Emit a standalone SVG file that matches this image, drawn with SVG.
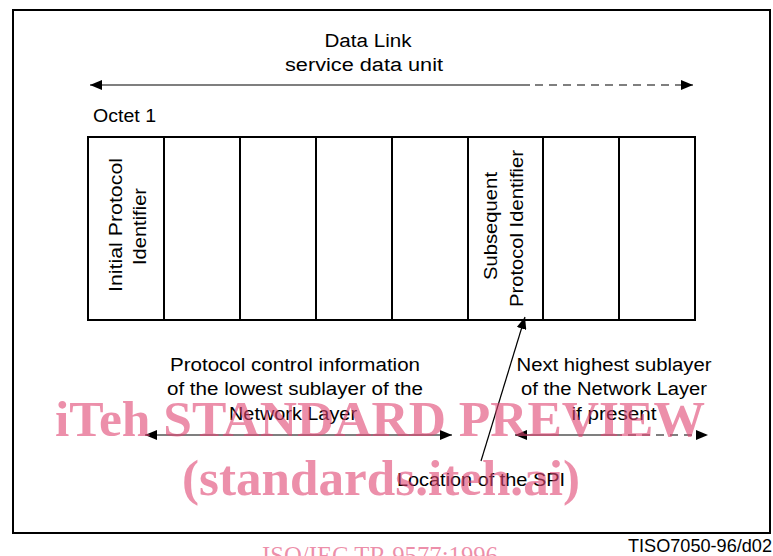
<svg xmlns="http://www.w3.org/2000/svg" width="773" height="556" viewBox="0 0 773 556">
  <defs>
    <style>
      .lbl { font-family: "Liberation Sans", Arial, sans-serif; font-size: 18px; fill: #000; }
      .vlbl { font-family: "Liberation Sans", Arial, sans-serif; font-size: 19px; fill: #000; text-anchor: middle; }
      .cell { fill: #fff; stroke: #000; stroke-width: 2; }
      .line { fill: none; stroke: #000; stroke-width: 1.2; }
      .dash { fill: none; stroke: #000; stroke-width: 1.2; stroke-dasharray: 8 6; }
      .wm { font-family: "Liberation Serif", "Times New Roman", serif; fill: #df4471; fill-opacity: 0.6; }
    </style>
    <marker id="head" viewBox="0 0 12 10" refX="12" refY="5" markerWidth="12" markerHeight="10" markerUnits="userSpaceOnUse" orient="auto-start-reverse">
      <path d="M0,0 L12,5 L0,10 Z" fill="#000"/>
    </marker>
  </defs>

  <rect width="773" height="556" fill="#fff"/>

  <!-- outer frame -->
  <rect x="13" y="10" width="757" height="523" fill="none" stroke="#000" stroke-width="2"/>

  <!-- heading over the top span -->
  <g id="title">
    <text class="lbl" x="368" y="47" text-anchor="middle" textLength="87" lengthAdjust="spacingAndGlyphs">Data Link</text>
    <text class="lbl" x="364" y="71" text-anchor="middle" textLength="158" lengthAdjust="spacingAndGlyphs">service data unit</text>
  </g>
  <g id="octet-label">
    <text class="lbl" x="93" y="122" textLength="63" lengthAdjust="spacingAndGlyphs">Octet 1</text>
  </g>

  <!-- octets -->
  <g id="octet-1">
    <rect class="cell" x="88" y="137" width="76" height="183"/>
    <text class="vlbl" transform="translate(122,225) rotate(-90)" textLength="134" lengthAdjust="spacingAndGlyphs">Initial Protocol</text>
    <text class="vlbl" transform="translate(146,226.5) rotate(-90)" textLength="77" lengthAdjust="spacingAndGlyphs">Identifier</text>
  </g>
  <g id="octet-2"><rect class="cell" x="164" y="137" width="76" height="183"/></g>
  <g id="octet-3"><rect class="cell" x="240" y="137" width="76" height="183"/></g>
  <g id="octet-4"><rect class="cell" x="316" y="137" width="76" height="183"/></g>
  <g id="octet-5"><rect class="cell" x="392" y="137" width="76" height="183"/></g>
  <g id="octet-6">
    <rect class="cell" x="468" y="137" width="75" height="183"/>
    <text class="vlbl" transform="translate(497,226) rotate(-90)" textLength="108" lengthAdjust="spacingAndGlyphs">Subsequent</text>
    <text class="vlbl" transform="translate(523,228.5) rotate(-90)" textLength="157" lengthAdjust="spacingAndGlyphs">Protocol Identifier</text>
  </g>
  <g id="octet-7"><rect class="cell" x="543" y="137" width="76" height="183"/></g>
  <g id="octet-8"><rect class="cell" x="619" y="137" width="76" height="183"/></g>

  <!-- lower labels -->
  <g id="pci-label">
    <text class="lbl" x="295" y="371" text-anchor="middle" textLength="250" lengthAdjust="spacingAndGlyphs">Protocol control information</text>
    <text class="lbl" x="295" y="395" text-anchor="middle" textLength="256" lengthAdjust="spacingAndGlyphs">of the lowest sublayer of the</text>
    <text class="lbl" x="293" y="420" text-anchor="middle" textLength="128" lengthAdjust="spacingAndGlyphs">Network Layer</text>
  </g>
  <g id="next-label">
    <text class="lbl" x="614" y="371" text-anchor="middle" textLength="195" lengthAdjust="spacingAndGlyphs">Next highest sublayer</text>
    <text class="lbl" x="614" y="395" text-anchor="middle" textLength="186" lengthAdjust="spacingAndGlyphs">of the Network Layer</text>
    <text class="lbl" x="614" y="420" text-anchor="middle" textLength="85" lengthAdjust="spacingAndGlyphs">if present</text>
  </g>
  <g id="spi-label">
    <text class="lbl" x="481" y="486" text-anchor="middle" textLength="168" lengthAdjust="spacingAndGlyphs">Location of the SPI</text>
  </g>

  <!-- connectors -->
  <g id="connectors">
    <!-- data link SDU span -->
    <path class="line" d="M90,85 H530" marker-start="url(#head)"/>
    <path class="dash" d="M535,85 H693" marker-end="url(#head)"/>
    <!-- lowest sublayer PCI span -->
    <path class="line" d="M145,435 H452" marker-start="url(#head)" marker-end="url(#head)"/>
    <!-- next sublayer span -->
    <path class="line" d="M515,435 H622" marker-start="url(#head)"/>
    <path class="dash" d="M628,435 H708" marker-end="url(#head)"/>
    <!-- SPI pointer -->
    <path class="line" d="M481,461 L525,317" marker-end="url(#head)"/>
  </g>

  <!-- figure reference -->
  <g id="figure-id">
    <text class="lbl" x="628" y="552" textLength="144" lengthAdjust="spacingAndGlyphs">TISO7050-96/d02</text>
  </g>

  <!-- overprinted publisher mark -->
  <g id="overprint">
    <text class="wm" x="380" y="436" text-anchor="middle" font-size="51" font-weight="bold" textLength="650" lengthAdjust="spacingAndGlyphs">iTeh STANDARD PREVIEW</text>
    <text class="wm" x="381" y="495" text-anchor="middle" font-size="51" font-weight="bold" textLength="398" lengthAdjust="spacingAndGlyphs">(standards.iteh.ai)</text>
    <text class="wm" x="380" y="564" text-anchor="middle" font-size="24.7" textLength="236" lengthAdjust="spacingAndGlyphs">ISO/IEC TR 9577:1996</text>
  </g>
</svg>
